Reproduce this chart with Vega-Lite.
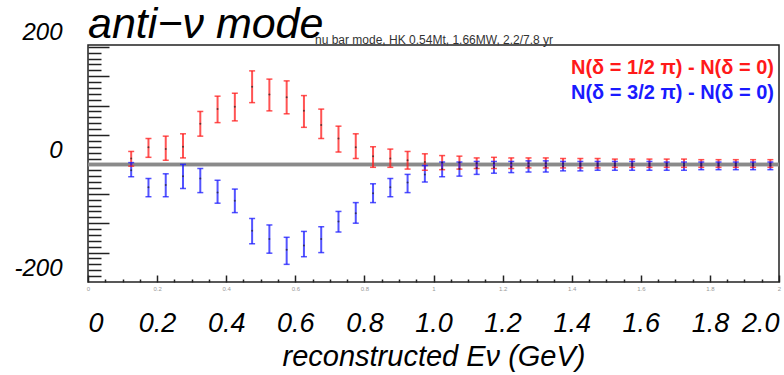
{
  "$schema": "https://vega.github.io/schema/vega-lite/v6.json",
  "width": 691,
  "height": 237,
  "autosize": "none",
  "padding": {"left": 88, "top": 45, "right": 5, "bottom": 93},
  "background": "white",
  "config": {
    "font": "Liberation Sans",
    "view": {"stroke": "#222", "strokeWidth": 1.5}
  },
  "title": {
    "text": "anti−ν mode",
    "anchor": "start",
    "frame": "group",
    "fontSize": 43,
    "fontStyle": "italic",
    "fontWeight": "normal",
    "color": "#000",
    "baseline": "alphabetic",
    "offset": -60
  },
  "datasets": {
    "points": [
      {"x": 0.125, "series": "N(δ = 1/2 π) - N(δ = 0)", "v": 10, "lo": -3, "hi": 22},
      {"x": 0.175, "series": "N(δ = 1/2 π) - N(δ = 0)", "v": 29, "lo": 12, "hi": 44},
      {"x": 0.225, "series": "N(δ = 1/2 π) - N(δ = 0)", "v": 26, "lo": 7, "hi": 48},
      {"x": 0.275, "series": "N(δ = 1/2 π) - N(δ = 0)", "v": 30, "lo": 11, "hi": 52},
      {"x": 0.325, "series": "N(δ = 1/2 π) - N(δ = 0)", "v": 69, "lo": 48, "hi": 90},
      {"x": 0.375, "series": "N(δ = 1/2 π) - N(δ = 0)", "v": 94, "lo": 71, "hi": 116},
      {"x": 0.425, "series": "N(δ = 1/2 π) - N(δ = 0)", "v": 98, "lo": 74, "hi": 121},
      {"x": 0.475, "series": "N(δ = 1/2 π) - N(δ = 0)", "v": 132, "lo": 105, "hi": 159},
      {"x": 0.525, "series": "N(δ = 1/2 π) - N(δ = 0)", "v": 119, "lo": 91, "hi": 145},
      {"x": 0.575, "series": "N(δ = 1/2 π) - N(δ = 0)", "v": 114, "lo": 86, "hi": 142},
      {"x": 0.625, "series": "N(δ = 1/2 π) - N(δ = 0)", "v": 91, "lo": 63, "hi": 117},
      {"x": 0.675, "series": "N(δ = 1/2 π) - N(δ = 0)", "v": 67, "lo": 44, "hi": 94},
      {"x": 0.725, "series": "N(δ = 1/2 π) - N(δ = 0)", "v": 44, "lo": 21, "hi": 65},
      {"x": 0.775, "series": "N(δ = 1/2 π) - N(δ = 0)", "v": 29, "lo": 10, "hi": 52},
      {"x": 0.825, "series": "N(δ = 1/2 π) - N(δ = 0)", "v": 14, "lo": -5, "hi": 30},
      {"x": 0.875, "series": "N(δ = 1/2 π) - N(δ = 0)", "v": 10, "lo": -5, "hi": 26},
      {"x": 0.925, "series": "N(δ = 1/2 π) - N(δ = 0)", "v": 7, "lo": -8, "hi": 22},
      {"x": 0.975, "series": "N(δ = 1/2 π) - N(δ = 0)", "v": 4, "lo": -10, "hi": 18},
      {"x": 1.025, "series": "N(δ = 1/2 π) - N(δ = 0)", "v": 3, "lo": -9, "hi": 15},
      {"x": 1.075, "series": "N(δ = 1/2 π) - N(δ = 0)", "v": 3, "lo": -8, "hi": 14},
      {"x": 1.125, "series": "N(δ = 1/2 π) - N(δ = 0)", "v": 2, "lo": -7, "hi": 11},
      {"x": 1.175, "series": "N(δ = 1/2 π) - N(δ = 0)", "v": 2, "lo": -7, "hi": 12},
      {"x": 1.225, "series": "N(δ = 1/2 π) - N(δ = 0)", "v": 2, "lo": -7, "hi": 11},
      {"x": 1.275, "series": "N(δ = 1/2 π) - N(δ = 0)", "v": 2, "lo": -6, "hi": 11},
      {"x": 1.325, "series": "N(δ = 1/2 π) - N(δ = 0)", "v": 2, "lo": -6, "hi": 11},
      {"x": 1.375, "series": "N(δ = 1/2 π) - N(δ = 0)", "v": 1, "lo": -6, "hi": 10},
      {"x": 1.425, "series": "N(δ = 1/2 π) - N(δ = 0)", "v": 1, "lo": -6, "hi": 10},
      {"x": 1.475, "series": "N(δ = 1/2 π) - N(δ = 0)", "v": 1, "lo": -6, "hi": 10},
      {"x": 1.525, "series": "N(δ = 1/2 π) - N(δ = 0)", "v": 1, "lo": -5, "hi": 9},
      {"x": 1.575, "series": "N(δ = 1/2 π) - N(δ = 0)", "v": 1, "lo": -5, "hi": 9},
      {"x": 1.625, "series": "N(δ = 1/2 π) - N(δ = 0)", "v": 1, "lo": -5, "hi": 9},
      {"x": 1.675, "series": "N(δ = 1/2 π) - N(δ = 0)", "v": 1, "lo": -5, "hi": 9},
      {"x": 1.725, "series": "N(δ = 1/2 π) - N(δ = 0)", "v": 1, "lo": -5, "hi": 9},
      {"x": 1.775, "series": "N(δ = 1/2 π) - N(δ = 0)", "v": 1, "lo": -5, "hi": 8},
      {"x": 1.825, "series": "N(δ = 1/2 π) - N(δ = 0)", "v": 1, "lo": -5, "hi": 8},
      {"x": 1.875, "series": "N(δ = 1/2 π) - N(δ = 0)", "v": 1, "lo": -5, "hi": 8},
      {"x": 1.925, "series": "N(δ = 1/2 π) - N(δ = 0)", "v": 1, "lo": -5, "hi": 8},
      {"x": 1.975, "series": "N(δ = 1/2 π) - N(δ = 0)", "v": 1, "lo": -5, "hi": 8},
      {"x": 0.125, "series": "N(δ = 3/2 π) - N(δ = 0)", "v": -10, "lo": -21, "hi": 3},
      {"x": 0.175, "series": "N(δ = 3/2 π) - N(δ = 0)", "v": -39, "lo": -55, "hi": -24},
      {"x": 0.225, "series": "N(δ = 3/2 π) - N(δ = 0)", "v": -35, "lo": -55, "hi": -16},
      {"x": 0.275, "series": "N(δ = 3/2 π) - N(δ = 0)", "v": -20, "lo": -41, "hi": 0},
      {"x": 0.325, "series": "N(δ = 3/2 π) - N(δ = 0)", "v": -24, "lo": -48, "hi": -7},
      {"x": 0.375, "series": "N(δ = 3/2 π) - N(δ = 0)", "v": -48, "lo": -66, "hi": -27},
      {"x": 0.425, "series": "N(δ = 3/2 π) - N(δ = 0)", "v": -62, "lo": -82, "hi": -42},
      {"x": 0.475, "series": "N(δ = 3/2 π) - N(δ = 0)", "v": -113, "lo": -135, "hi": -92},
      {"x": 0.525, "series": "N(δ = 3/2 π) - N(δ = 0)", "v": -127, "lo": -151, "hi": -103},
      {"x": 0.575, "series": "N(δ = 3/2 π) - N(δ = 0)", "v": -145, "lo": -170, "hi": -124},
      {"x": 0.625, "series": "N(δ = 3/2 π) - N(δ = 0)", "v": -138, "lo": -157, "hi": -114},
      {"x": 0.675, "series": "N(δ = 3/2 π) - N(δ = 0)", "v": -127, "lo": -150, "hi": -106},
      {"x": 0.725, "series": "N(δ = 3/2 π) - N(δ = 0)", "v": -97, "lo": -115, "hi": -80},
      {"x": 0.775, "series": "N(δ = 3/2 π) - N(δ = 0)", "v": -83, "lo": -100, "hi": -65},
      {"x": 0.825, "series": "N(δ = 3/2 π) - N(δ = 0)", "v": -49, "lo": -65, "hi": -33},
      {"x": 0.875, "series": "N(δ = 3/2 π) - N(δ = 0)", "v": -39, "lo": -55, "hi": -24},
      {"x": 0.925, "series": "N(δ = 3/2 π) - N(δ = 0)", "v": -31, "lo": -48, "hi": -17},
      {"x": 0.975, "series": "N(δ = 3/2 π) - N(δ = 0)", "v": -17, "lo": -30, "hi": -2},
      {"x": 1.025, "series": "N(δ = 3/2 π) - N(δ = 0)", "v": -8, "lo": -21, "hi": 4},
      {"x": 1.075, "series": "N(δ = 3/2 π) - N(δ = 0)", "v": -8, "lo": -20, "hi": 4},
      {"x": 1.125, "series": "N(δ = 3/2 π) - N(δ = 0)", "v": -6, "lo": -17, "hi": 5},
      {"x": 1.175, "series": "N(δ = 3/2 π) - N(δ = 0)", "v": -5, "lo": -15, "hi": 5},
      {"x": 1.225, "series": "N(δ = 3/2 π) - N(δ = 0)", "v": -4, "lo": -14, "hi": 5},
      {"x": 1.275, "series": "N(δ = 3/2 π) - N(δ = 0)", "v": -3, "lo": -13, "hi": 6},
      {"x": 1.325, "series": "N(δ = 3/2 π) - N(δ = 0)", "v": -3, "lo": -13, "hi": 6},
      {"x": 1.375, "series": "N(δ = 3/2 π) - N(δ = 0)", "v": -3, "lo": -11, "hi": 5},
      {"x": 1.425, "series": "N(δ = 3/2 π) - N(δ = 0)", "v": -2, "lo": -11, "hi": 5},
      {"x": 1.475, "series": "N(δ = 3/2 π) - N(δ = 0)", "v": -2, "lo": -10, "hi": 5},
      {"x": 1.525, "series": "N(δ = 3/2 π) - N(δ = 0)", "v": -2, "lo": -10, "hi": 5},
      {"x": 1.575, "series": "N(δ = 3/2 π) - N(δ = 0)", "v": -2, "lo": -10, "hi": 5},
      {"x": 1.625, "series": "N(δ = 3/2 π) - N(δ = 0)", "v": -2, "lo": -10, "hi": 5},
      {"x": 1.675, "series": "N(δ = 3/2 π) - N(δ = 0)", "v": -2, "lo": -10, "hi": 4},
      {"x": 1.725, "series": "N(δ = 3/2 π) - N(δ = 0)", "v": -2, "lo": -10, "hi": 4},
      {"x": 1.775, "series": "N(δ = 3/2 π) - N(δ = 0)", "v": -2, "lo": -9, "hi": 4},
      {"x": 1.825, "series": "N(δ = 3/2 π) - N(δ = 0)", "v": -2, "lo": -9, "hi": 4},
      {"x": 1.875, "series": "N(δ = 3/2 π) - N(δ = 0)", "v": -2, "lo": -9, "hi": 4},
      {"x": 1.925, "series": "N(δ = 3/2 π) - N(δ = 0)", "v": -2, "lo": -9, "hi": 4},
      {"x": 1.975, "series": "N(δ = 3/2 π) - N(δ = 0)", "v": -2, "lo": -9, "hi": 4}
    ]
  },
  "resolve": {
    "scale": {"x": "independent", "y": "independent"},
    "axis": {"x": "independent", "y": "independent"}
  },
  "layer": [
    {
      "data": {"values": [{}]},
      "mark": {"type": "rule", "color": "#8a8a8a", "strokeWidth": 3.5},
      "encoding": {
        "x": {"datum": 0, "type": "quantitative",
          "scale": {"domain": [0, 2], "nice": false, "zero": false},
          "axis": {
            "orient": "bottom", "title": null, "domain": false, "grid": false, "labels": false,
            "values": [0,0.05,0.1,0.15,0.2,0.25,0.3,0.35,0.4,0.45,0.5,0.55,0.6,0.65,0.7,0.75,0.8,0.85,0.9,0.95,1,1.05,1.1,1.15,1.2,1.25,1.3,1.35,1.4,1.45,1.5,1.55,1.6,1.65,1.7,1.75,1.8,1.85,1.9,1.95,2],
            "tickSize": {"expr": "abs(datum.value*5 - round(datum.value*5)) < 0.001 ? -7 : -3"},
            "tickColor": "#222", "tickWidth": 1.5
          }
        },
        "x2": {"datum": 2},
        "y": {"datum": 0, "type": "quantitative",
          "scale": {"domain": [-200, 203], "nice": false, "zero": false},
          "axis": {
            "orient": "left", "title": null, "domain": false, "grid": false, "labels": false,
            "values": [-190,-180,-170,-160,-150,-140,-130,-120,-110,-100,-90,-80,-70,-60,-50,-40,-30,-20,-10,0,10,20,30,40,50,60,70,80,90,100,110,120,130,140,150,160,170,180,190,200],
            "tickSize": {"expr": "datum.value % 50 == 0 ? -21 : -13"},
            "tickColor": "#222", "tickWidth": 1.5
          }
        }
      }
    },
    {
      "data": {"values": [{}]},
      "mark": {"type": "rule", "color": "#8a8a8a", "strokeWidth": 3.5},
      "encoding": {
        "x": {"datum": 0, "type": "quantitative",
          "scale": {"domain": [0, 2], "nice": false, "zero": false},
          "axis": {
            "orient": "bottom", "title": null, "domain": false, "grid": false, "ticks": false,
            "values": [0,0.2,0.4,0.6,0.8,1,1.2,1.4,1.6,1.8,2],
            "labelExpr": "datum.value == round(datum.value) ? format(datum.value, 'd') : format(datum.value, '.1f')",
            "labelFontSize": 6, "labelColor": "#999", "labelPadding": 3, "labelFlush": false, "labelOverlap": false
          }
        },
        "x2": {"datum": 2},
        "y": {"datum": 0, "type": "quantitative",
          "scale": {"domain": [-200, 203], "nice": false, "zero": false},
          "axis": {
            "orient": "left", "title": null, "domain": false, "grid": false, "ticks": false,
            "values": [-200, 0, 200],
            "labelExpr": "datum.value < 0 ? '-' + abs(datum.value) : '' + datum.value",
            "labelFontSize": 24, "labelFontStyle": "italic", "labelColor": "#000",
            "labelPadding": 26, "labelOffset": -14
          }
        }
      }
    },
    {
      "data": {"values": [{"label": "nu bar mode, HK 0.54Mt, 1.66MW, 2.2/7.8 yr"}]},
      "mark": {"type": "text", "align": "left", "baseline": "middle", "fontSize": 12, "color": "#333"},
      "encoding": {
        "text": {"field": "label"},
        "x": {"datum": 0.657, "type": "quantitative", "scale": {"domain": [0, 2], "nice": false, "zero": false}, "axis": null},
        "y": {"datum": 211, "type": "quantitative", "scale": {"domain": [-200, 203], "nice": false, "zero": false}, "axis": null}
      }
    },
    {
      "data": {"name": "points"},
      "encoding": {
        "x": {"field": "x", "type": "quantitative",
          "scale": {"domain": [0, 2], "nice": false, "zero": false},
          "axis": {
            "orient": "bottom", "title": "reconstructed Eν (GeV)", "domain": false, "grid": false, "ticks": false,
            "values": [0,0.2,0.4,0.6,0.8,1,1.2,1.4,1.6,1.8,2],
            "labelExpr": "datum.value == 0 ? '0' : format(datum.value, '.1f')",
            "labelFontSize": 27, "labelFontStyle": "italic", "labelColor": "#000", "labelPadding": 28,
            "labelFlush": true, "labelOverlap": false,
            "titleFontSize": 29, "titleFontStyle": "italic", "titleFontWeight": "normal", "titleColor": "#000", "titlePadding": 6
          }
        }
      },
      "layer": [
        {
          "mark": {"type": "rule", "strokeWidth": 2, "opacity": 0.75},
          "encoding": {
            "y": {"field": "lo", "type": "quantitative", "scale": {"domain": [-200, 203], "nice": false, "zero": false}, "axis": null},
            "y2": {"field": "hi"},
            "color": {"field": "series", "type": "nominal",
              "scale": {"domain": ["N(δ = 1/2 π) - N(δ = 0)", "N(δ = 3/2 π) - N(δ = 0)"], "range": ["#ff1a1a", "#1a1aff"]},
              "legend": {
                "orient": "none", "legendX": 463, "legendY": 13, "title": null, "padding": 0,
                "symbolSize": 0, "symbolOpacity": 0, "symbolStrokeWidth": 0, "labelOffset": 0,
                "labelFontSize": 20, "labelFontWeight": "bold", "labelLimit": 400,
                "labelColor": {"expr": "indexof(datum.label, '1/2') >= 0 ? '#ff1a1a' : '#1a1aff'"},
                "rowPadding": 5
              }
            }
          }
        },
        {
          "mark": {"type": "tick", "orient": "horizontal", "size": 6, "thickness": 1.5, "opacity": 0.75},
          "encoding": {
            "y": {"field": "lo", "type": "quantitative", "scale": {"domain": [-200, 203], "nice": false, "zero": false}, "axis": null},
            "color": {"field": "series", "type": "nominal", "legend": null}
          }
        },
        {
          "mark": {"type": "tick", "orient": "horizontal", "size": 6, "thickness": 1.5, "opacity": 0.75},
          "encoding": {
            "y": {"field": "hi", "type": "quantitative", "scale": {"domain": [-200, 203], "nice": false, "zero": false}, "axis": null},
            "color": {"field": "series", "type": "nominal", "legend": null}
          }
        },
        {
          "mark": {"type": "point", "filled": true, "size": 4, "color": "#222", "opacity": 0.7},
          "encoding": {
            "y": {"field": "v", "type": "quantitative", "scale": {"domain": [-200, 203], "nice": false, "zero": false}, "axis": null}
          }
        }
      ]
    }
  ]
}
